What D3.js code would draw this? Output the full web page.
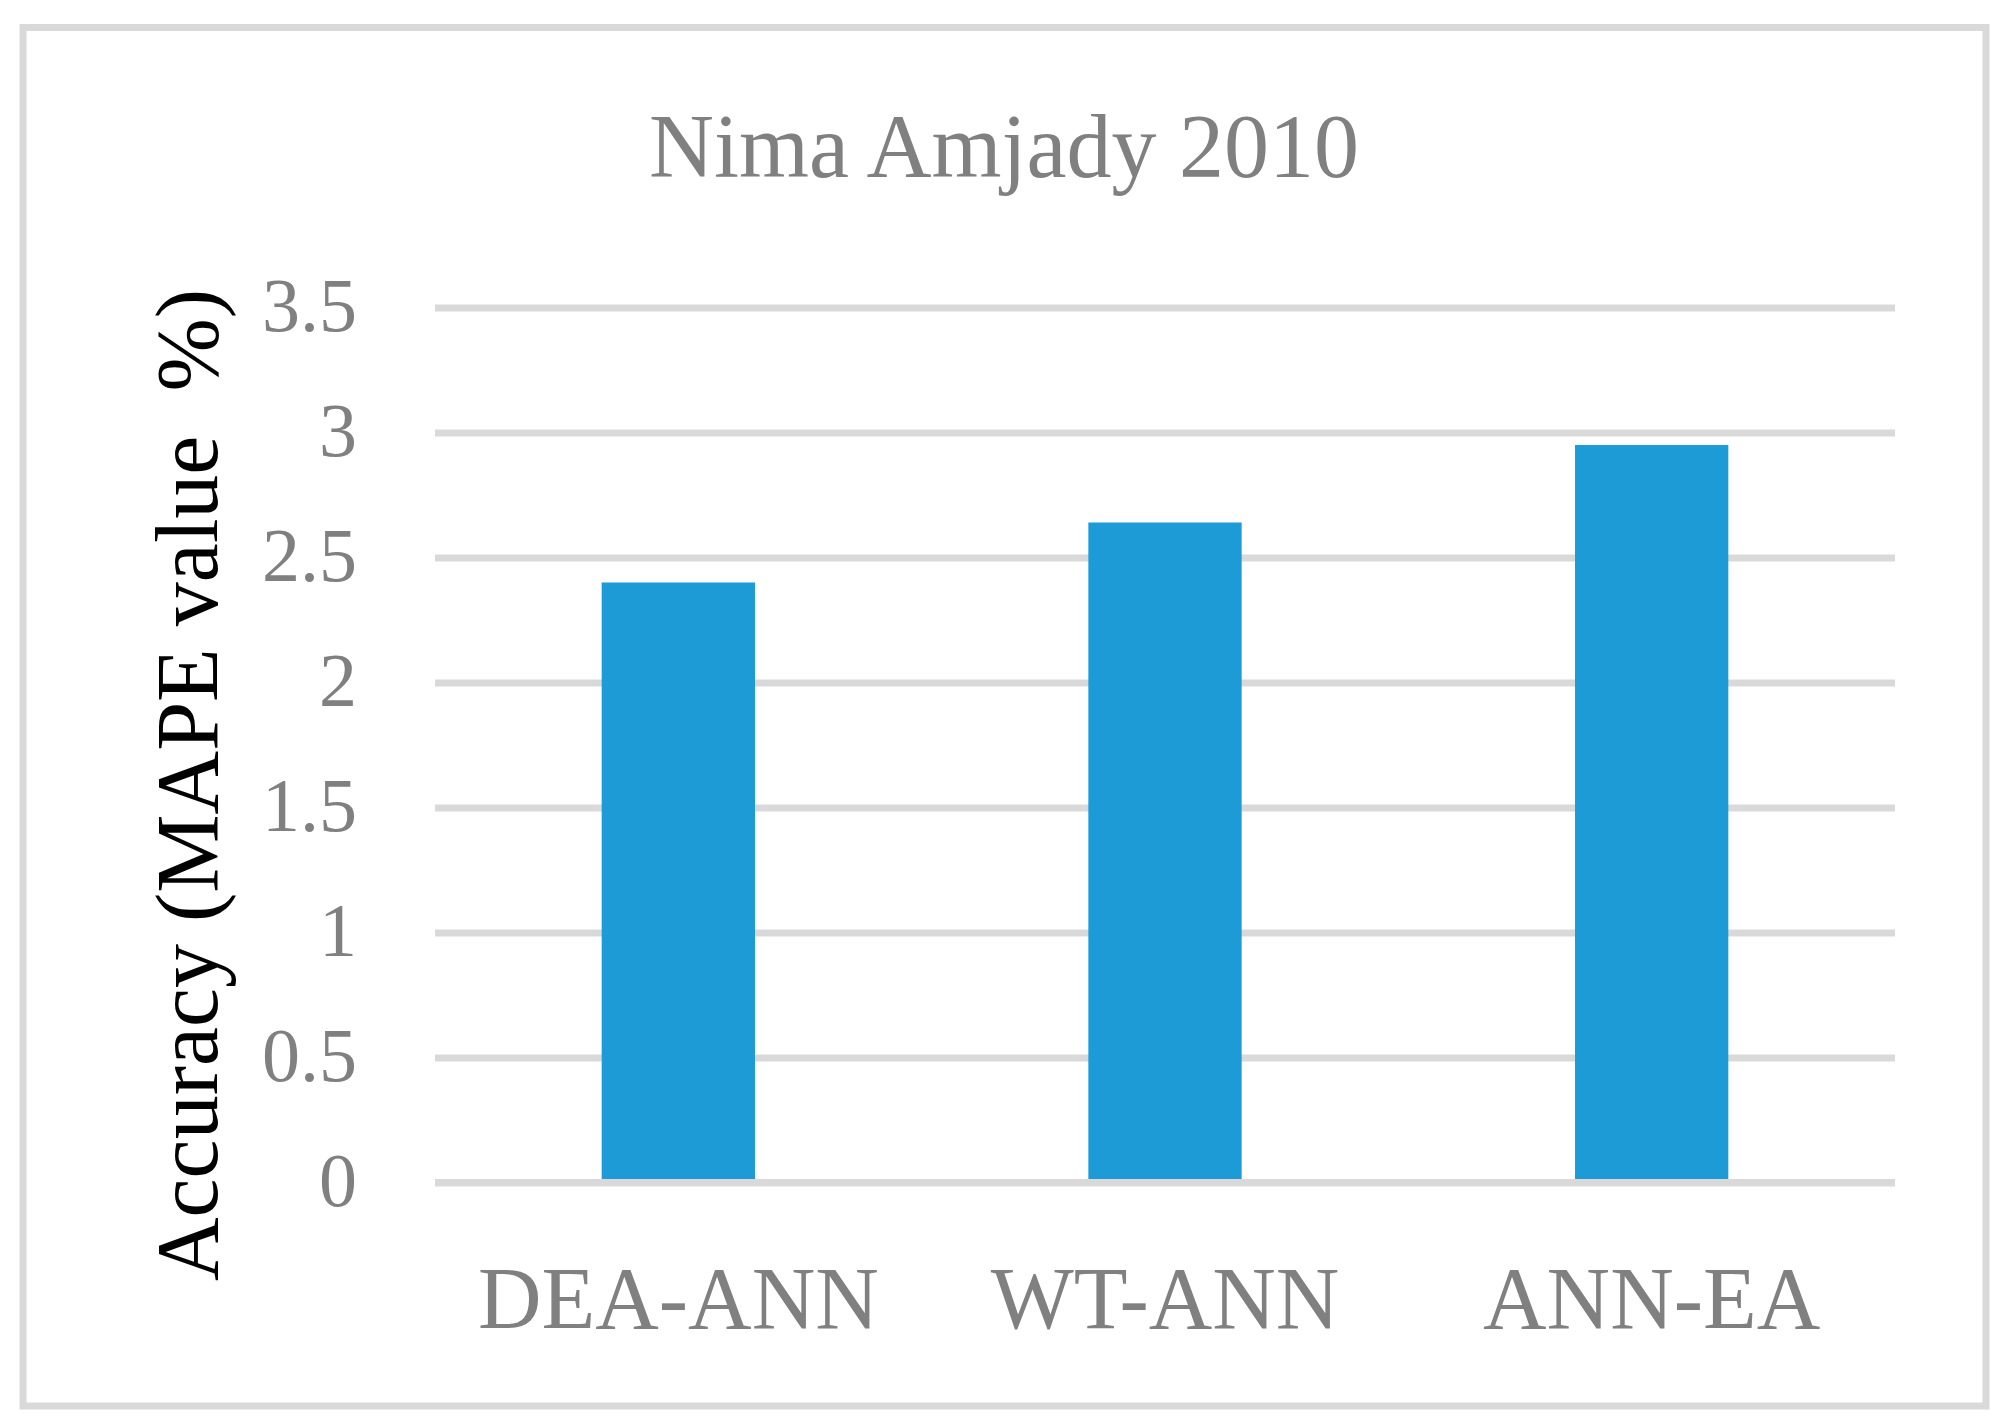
<!DOCTYPE html>
<html>
<head>
<meta charset="utf-8">
<script src="https://cdn.jsdelivr.net/npm/d3@7"></script>
<style>
  body { margin: 0; background: #fff; }
  text { font-family: "Liberation Serif", "DejaVu Serif", serif; }
</style>
</head>
<body>
<script>
// chart data
const categories = ["DEA-ANN", "WT-ANN", "ANN-EA"];
const mapeValues = [2.4, 2.64, 2.95];
const yTicks = [0, 0.5, 1, 1.5, 2, 2.5, 3, 3.5];
const chartTitle = "Nima Amjady 2010";
const yTitle = "Accuracy (MAPE value  %)";

const W = 2002, H = 1428;
const plot = { left: 435, right: 1895, top: 307.5, bottom: 1182.5 };
const grey = "#808080", gridColor = "#d9d9d9", barColor = "#1d9bd7";

const svg = d3.select("body").append("svg")
  .attr("width", W)
  .attr("height", H);

svg.append("rect").attr("width", W).attr("height", H).attr("fill", "#fff");

// outer frame
svg.append("rect")
  .attr("x", 23).attr("y", 27.5)
  .attr("width", 1963).attr("height", 1378.5)
  .attr("fill", "none")
  .attr("stroke", gridColor)
  .attr("stroke-width", 7);

const x = d3.scaleBand()
  .domain(categories)
  .range([plot.left, plot.right])
  .paddingInner(0.685)
  .paddingOuter(0.3425);

const y = d3.scaleLinear()
  .domain([0, 3.5])
  .range([plot.bottom, plot.top]);

// y axis with gridlines
const yAxis = svg.append("g")
  .attr("transform", `translate(${plot.left},0)`)
  .call(d3.axisLeft(y)
    .tickValues(yTicks)
    .tickFormat(d => String(d))
    .tickSizeInner(-(plot.right - plot.left))
    .tickSizeOuter(0)
    .tickPadding(78));
yAxis.select(".domain").remove();
yAxis.selectAll(".tick line")
  .attr("stroke", gridColor)
  .attr("stroke-width", 7);
yAxis.selectAll(".tick text")
  .attr("fill", grey)
  .attr("font-size", 76)
  .attr("dy", 22.5)
  .style("font-family", "'Liberation Serif', serif");

// bars
svg.append("g")
  .selectAll("rect")
  .data(mapeValues)
  .join("rect")
  .attr("x", (d, i) => x(categories[i]))
  .attr("y", d => y(d))
  .attr("width", x.bandwidth())
  .attr("height", d => y(0) - y(d))
  .attr("fill", barColor);

// horizontal axis line over bars
svg.append("line")
  .attr("x1", plot.left).attr("x2", plot.right)
  .attr("y1", y(0)).attr("y2", y(0))
  .attr("stroke", gridColor)
  .attr("stroke-width", 7);

// category labels
const xAxis = svg.append("g")
  .attr("transform", `translate(0,${y(0)})`)
  .call(d3.axisBottom(x).tickSize(0).tickPadding(0));
xAxis.select(".domain").remove();
xAxis.selectAll(".tick text")
  .attr("fill", grey)
  .attr("font-size", 88)
  .attr("dy", 0)
  .attr("y", 145)
  .style("font-family", "'Liberation Serif', serif");

// title
svg.append("text")
  .attr("x", 1004)
  .attr("y", 177)
  .attr("text-anchor", "middle")
  .attr("fill", grey)
  .attr("font-size", 90)
  .text(chartTitle);

// y axis title
svg.append("text")
  .attr("transform", "translate(217,785) rotate(-90)")
  .attr("text-anchor", "middle")
  .attr("fill", "#000")
  .attr("font-size", 88)
  .style("white-space", "pre")
  .text(yTitle);
</script>
</body>
</html>
